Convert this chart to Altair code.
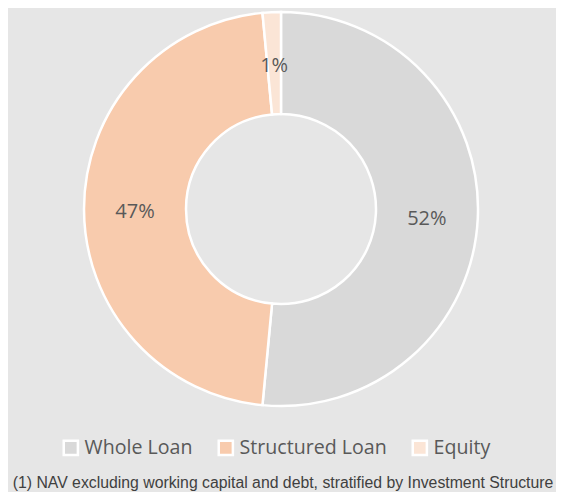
import altair as alt
import pandas as pd

categories = ["Whole Loan", "Structured Loan", "Equity"]
values = [51.5, 47.0, 1.5]
labels = ["52%", "47%", "1%"]
colors = ["#D9D9D9", "#F8CBAD", "#FBE5D6"]
footnote = "(1) NAV excluding working capital and debt, stratified by Investment Structure"

df = pd.DataFrame({
    "category": categories,
    "value": values,
    "label": labels,
    "order": list(range(len(categories))),
})

CX, CY = 273, 201

base = alt.Chart(df).encode(
    theta=alt.Theta("value:Q", stack=True),
    order=alt.Order("order:Q"),
)

arcs = base.mark_arc(
    innerRadius=95, outerRadius=197, stroke="white", strokeWidth=2.5
).encode(
    x=alt.value(CX),
    y=alt.value(CY),
    color=alt.Color(
        "category:N",
        scale=alt.Scale(domain=categories, range=colors),
        sort=categories,
        legend=alt.Legend(
            title=None,
            orient="none",
            direction="horizontal",
            legendX=53,
            legendY=430,
            symbolType="square",
            symbolSize=200,
            symbolStrokeColor="white",
            symbolStrokeWidth=2.5,
            symbolOpacity=1,
            labelFont="Open Sans",
            labelFontSize=19.6,
            labelColor="#595959",
            columnPadding=20,
            labelOffset=4,
        ),
    ),
)

text = base.mark_text(
    radius=146, font="Open Sans", fontSize=20, color="#595959", dy=3
).encode(
    x=alt.value(CX),
    y=alt.value(CY),
    text="label:N",
)

note_df = pd.DataFrame({"t": [footnote]})
note = alt.Chart(note_df).mark_text(
    font="Liberation Sans", fontSize=15.8, color="#404040", align="center", baseline="alphabetic"
).encode(
    x=alt.value(275), y=alt.value(480), text="t:N"
)

chart = alt.layer(arcs, text, note).properties(
    width=548, height=484, background="#E6E6E6", padding=0,
    autosize=alt.AutoSizeParams(type="none"),
).configure_view(stroke=None)

chart.save("out.html", embed_options={"renderer": "svg", "actions": False})
